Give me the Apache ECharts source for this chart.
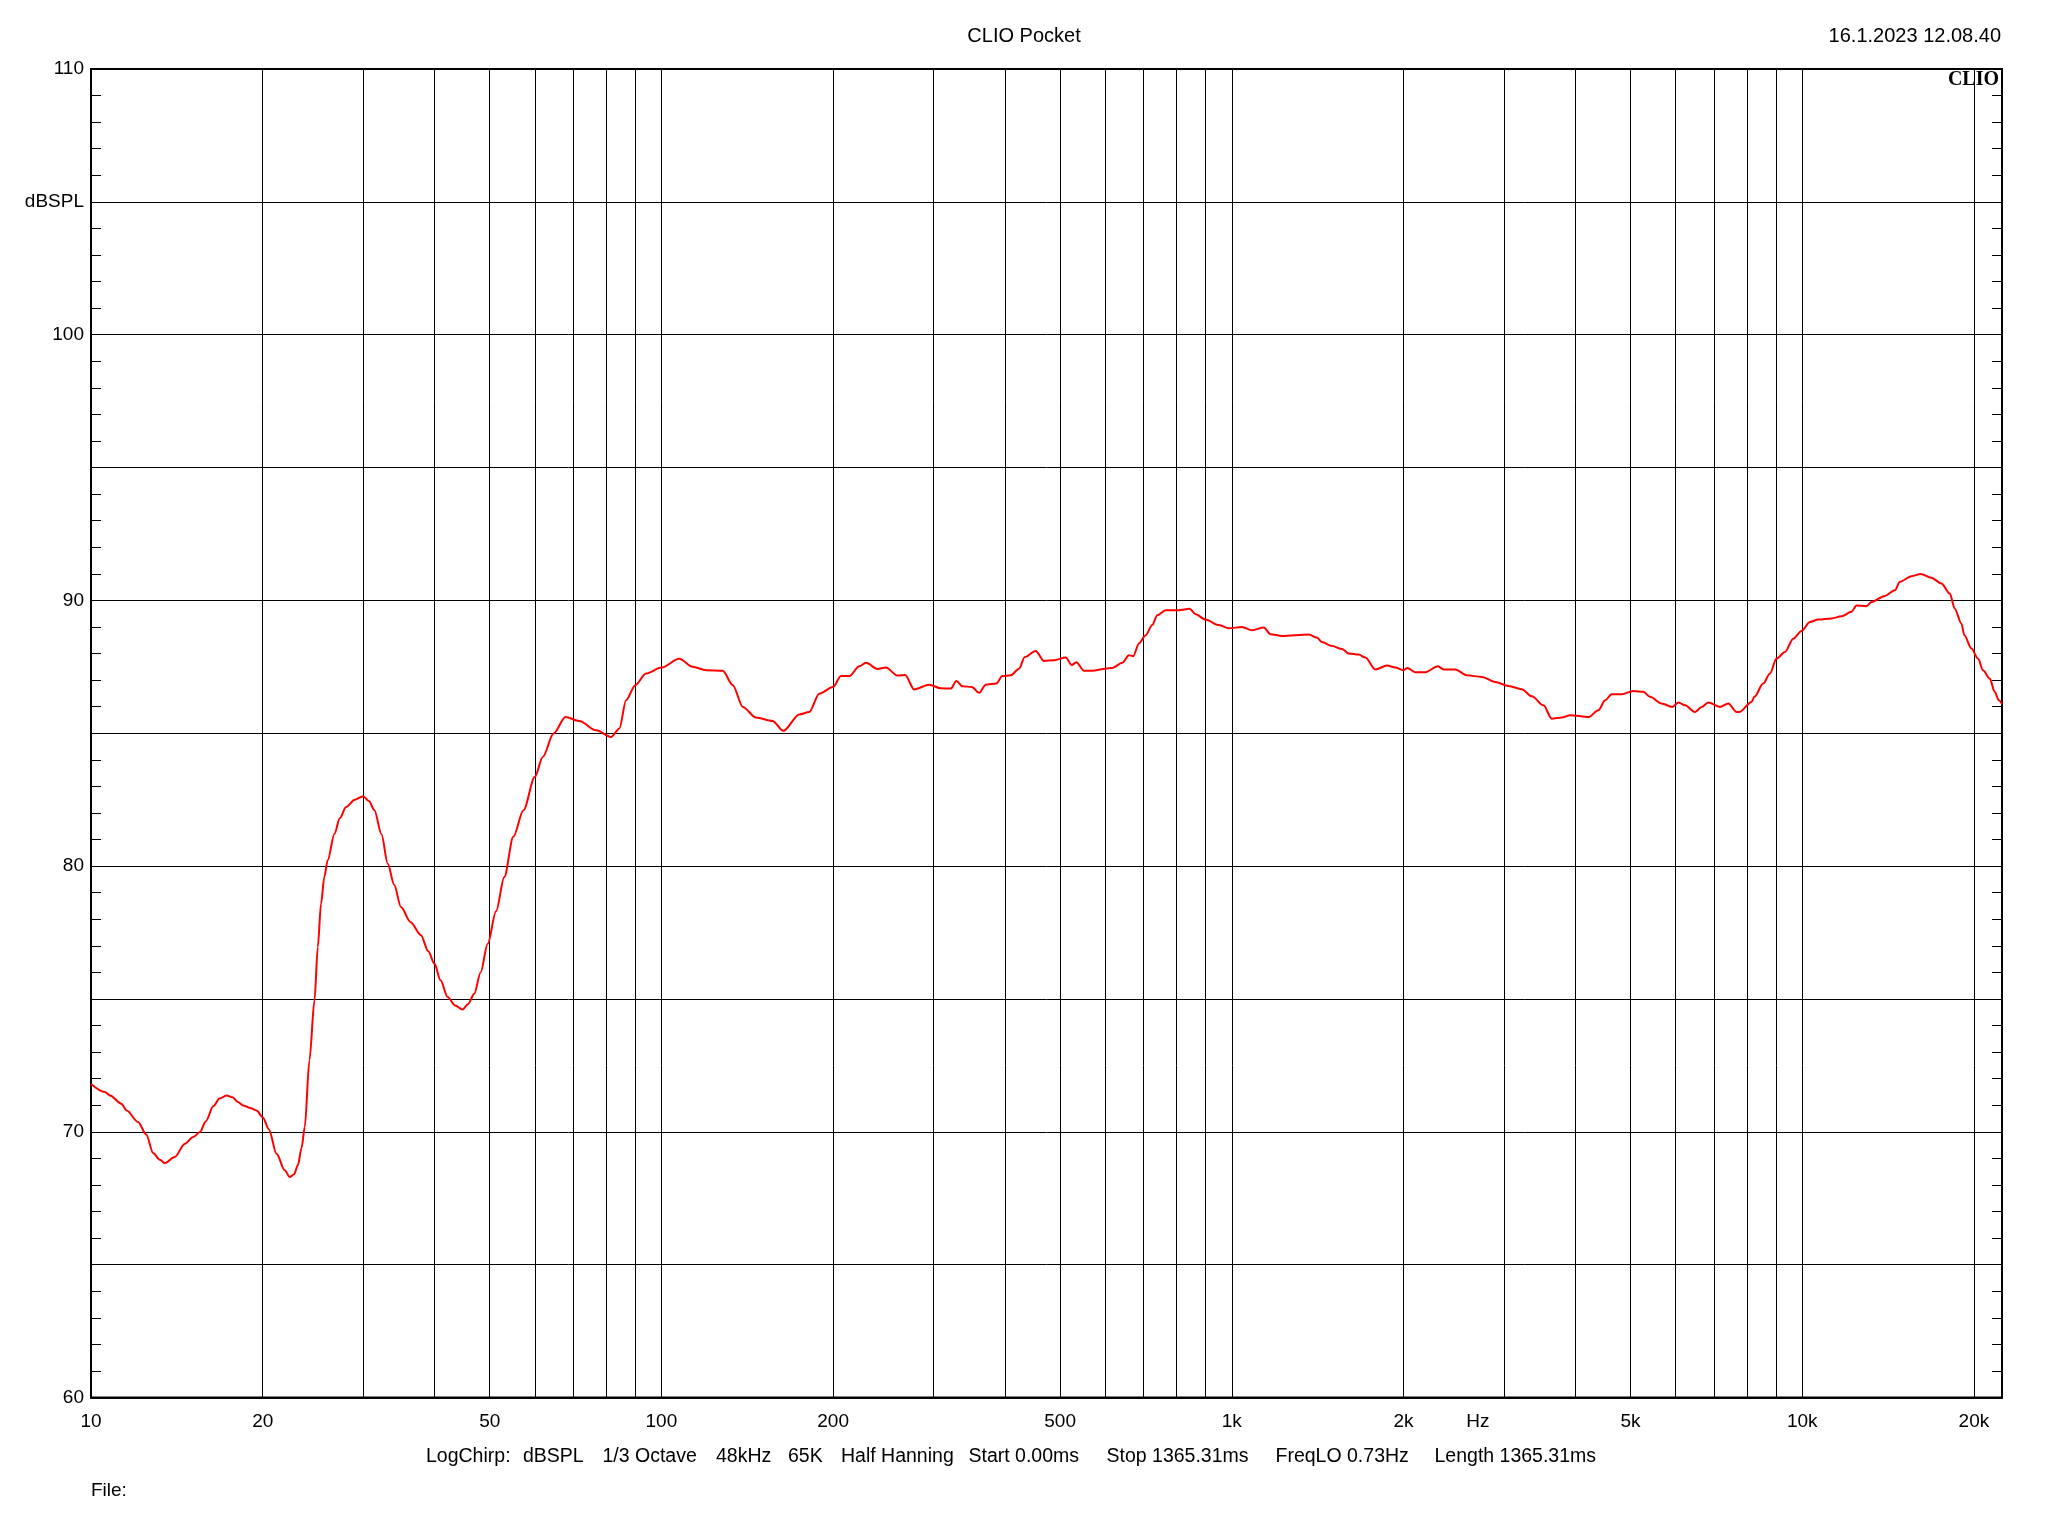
<!DOCTYPE html>
<html><head><meta charset="utf-8">
<script src="https://cdn.jsdelivr.net/npm/echarts@6/dist/echarts.min.js"></script>
<style>html,body{margin:0;padding:0;background:#fff}#c{width:2048px;height:1536px}</style>
</head><body><div id="c"></div>
<script>
// Frequency response (Hz) and level (dB SPL)
const freqHz = [10,10.57,10.8,11.3,11.55,12.09,12.5,12.85,13.2,13.48,14.02,14.61,15.1,15.52,15.9,16.38,16.8,17.29,17.7,18.09,18.48,19.0,19.51,20.0,20.5,21.15,21.86,22.3,22.7,23.05,23.4,23.7,24.15,24.65,24.98,25.31,25.65,26.0,26.72,27.3,28.0,29.0,30.0,30.7,31.4,32.3,33.13,34.0,34.95,36.3,37.89,39.0,40.0,41.0,42.2,43.5,44.8,45.8,46.98,48.2,49.6,51.3,53.04,55.0,57.3,60.0,61.95,64.7,67.9,71.8,76.85,81.6,84.4,86.7,90.0,94.0,100,107.5,113.4,119.8,128.1,133.4,138.9,146.5,156.6,163.6,174.5,181.6,189.1,200,206.4,213.5,222.3,228.4,239.3,247.5,259.4,267.5,277.4,294.8,309,321.7,329,337.1,350.1,360.6,370.4,386.6,396,409.8,423.6,433.5,453.1,468.6,487.9,511.5,524.1,533.9,550.7,569.4,600,617.3,642.6,660.2,671.7,687.4,706.3,725.3,740,765.5,807.6,843.1,863.8,899.3,949,988,1042,1085,1138,1169,1225,1364,1410,1439,1499,1561,1603,1669,1714,1785,1871,1935,2000,2031,2097,2184,2298,2351,2465,2583,2744,2896,3056,3223,3357,3519,3638,3789,3920,4220,4393,4514,4634,4825,5058,5267,5411,5670,5920,6065,6231,6488,6662,6845,7176,7421,7674,7763,8150,8243,8544,8779,9016,9326,9643,9973,10316,10667,11253,11718,12200,12449,12962,13227,13962,14535,14832,15540,16140,16840,17540,18140,18510,19010,19240,19800,20330,20750,21320,21750,22110,22400];
const splDb = [71.8,71.5,71.37,71.06,70.8,70.37,69.9,69.2,68.95,68.82,69.05,69.55,69.8,69.99,70.4,70.96,71.25,71.37,71.3,71.12,70.99,70.9,70.8,70.55,70.1,69.17,68.55,68.3,68.4,68.74,69.4,70.18,72.69,74.95,76.95,78.59,79.6,80.22,81.22,81.8,82.22,82.5,82.63,82.45,82.1,81.2,80.09,79.3,78.46,77.9,77.4,76.8,76.33,75.7,75.07,74.75,74.6,74.8,75.2,76.0,77.08,78.3,79.59,81.1,82.1,83.36,84.11,84.99,85.61,85.46,85.11,84.86,85.18,86.24,86.81,87.25,87.47,87.80,87.5,87.37,87.35,86.81,85.99,85.59,85.46,85.09,85.71,85.8,86.49,86.74,87.15,87.15,87.52,87.65,87.42,87.47,87.17,87.19,86.65,86.83,86.69,86.68,86.97,86.77,86.74,86.52,86.83,86.87,87.15,87.18,87.43,87.87,88.1,87.72,87.75,87.85,87.57,87.67,87.35,87.35,87.43,87.46,87.65,87.94,87.90,88.38,88.69,89.07,89.44,89.63,89.63,89.69,89.48,89.28,89.07,88.95,89.0,88.88,88.98,88.73,88.66,88.72,88.6,88.43,88.28,88.17,88.0,87.96,87.85,87.40,87.55,87.47,87.37,87.46,87.3,87.3,87.52,87.4,87.4,87.18,87.12,86.93,86.78,86.66,86.39,86.05,85.55,85.59,85.68,85.61,85.87,86.24,86.47,86.47,86.59,86.56,86.37,86.12,85.99,86.16,86.05,85.8,85.99,86.16,85.99,86.12,85.8,85.8,86.18,86.37,86.87,87.25,87.81,88.06,88.56,88.85,89.19,89.28,89.32,89.4,89.57,89.81,89.78,89.94,90.17,90.38,90.70,90.91,90.99,90.85,90.64,90.26,89.69,89.13,88.69,88.19,87.81,87.37,87.06,86.56,86.24,86.1];

// Vertical grid frequencies and x tick labels
const gridFreqs = [20,30,40,50,60,70,80,90,100,200,300,400,500,600,700,800,900,1000,2000,3000,4000,5000,6000,7000,8000,9000,10000,20000];
const xLabelFreqs = [10,20,50,100,200,500,1000,2000,2700,5000,10000,20000];
const xLabelTexts = ['10','20','50','100','200','500','1k','2k','Hz','5k','10k','20k'];
// Y labels
const yLabelValues = [60,70,80,90,100,105,110];
const yLabelTexts = ['60','70','80','90','100','dBSPL','110'];

const footerTexts = ['LogChirp:','dBSPL','1/3 Octave','48kHz','65K','Half Hanning','Start 0.00ms','Stop 1365.31ms','FreqLO 0.73Hz','Length 1365.31ms'];
const footerX = [426,523,602.5,716,788,841,968.5,1106.5,1275.5,1434.5];

const FONT = "'Liberation Sans', Arial, sans-serif";
const chart = echarts.init(document.getElementById('c'), null, {renderer:'canvas'});

function xFmt(v){
  for (let i=0;i<xLabelFreqs.length;i++){
    if (Math.abs(v - xLabelFreqs[i]) / xLabelFreqs[i] < 1e-4) return xLabelTexts[i];
  }
  return '';
}
function yFmt(v){
  const i = yLabelValues.indexOf(Math.round(v));
  return i >= 0 ? yLabelTexts[i] : '';
}

const graphics = [
  {type:'text', x:1024, y:36, style:{text:'CLIO Pocket', font:'20px '+FONT, fill:'#000', textAlign:'center', align:'center', textVerticalAlign:'middle', verticalAlign:'middle'}},
  {type:'text', x:2001, y:36, style:{text:'16.1.2023 12.08.40', font:'20px '+FONT, fill:'#000', textAlign:'right', align:'right', textVerticalAlign:'middle', verticalAlign:'middle'}},
  {type:'text', x:1999, y:80, z:100, style:{text:'CLIO', font:"bold 20px 'Liberation Serif', 'Times New Roman', serif", fill:'#000', textAlign:'right', align:'right', textVerticalAlign:'middle', verticalAlign:'middle'}},
  {type:'text', x:91, y:1491, style:{text:'File:', font:'19px '+FONT, fill:'#000', textAlign:'left', align:'left', textVerticalAlign:'middle', verticalAlign:'middle'}}
];
footerTexts.forEach((t,i)=>{
  graphics.push({type:'text', x:footerX[i], y:1457, style:{text:t, font:'19.5px '+FONT, fill:'#000', textAlign:'left', align:'left', textVerticalAlign:'middle', verticalAlign:'middle'}});
});

const yAxisBase = {
  type:'value', min:60, max:110, interval:5,
  axisLine:{show:true, lineStyle:{color:'#000', width:2}},
  axisTick:{show:true, inside:true, length:10, lineStyle:{color:'#000', width:1}},
  minorTick:{show:true, splitNumber:5, length:10, lineStyle:{color:'#000', width:1}},
};

chart.setOption({
  animation:false,
  backgroundColor:'#fff',
  grid:{left:91, top:69, right:46, bottom:138.5, show:true, borderColor:'#000', borderWidth:2, backgroundColor:'#fff', containLabel:false, outerBoundsMode:'none'},
  xAxis:{
    type:'log', logBase:10, min:10, max:22400,
    axisLine:{show:true, lineStyle:{color:'#000', width:2}},
    axisTick:{show:false, customValues:gridFreqs},
    splitLine:{show:true, lineStyle:{color:'#000', width:1}},
    minorTick:{show:false}, minorSplitLine:{show:false},
    axisLabel:{show:true, customValues:xLabelFreqs, formatter:xFmt, color:'#000', fontSize:19, fontFamily:FONT, margin:15}
  },
  yAxis:[
    Object.assign({}, yAxisBase, {position:'left',
      splitLine:{show:true, lineStyle:{color:'#000', width:1}},
      axisLabel:{show:true, formatter:yFmt, color:'#000', fontSize:19, fontFamily:FONT, margin:7}}),
    Object.assign({}, yAxisBase, {position:'right',
      splitLine:{show:false}, axisLabel:{show:false}})
  ],
  graphic:graphics,
  series:[{
    type:'line', xAxisIndex:0, yAxisIndex:0,
    data: freqHz.map((f,i)=>[f, splDb[i]]),
    showSymbol:false, symbol:'none',
    smooth:0.3, smoothMonotone:'x',
    lineStyle:{color:'#ff0000', width:2},
    clip:true, z:5
  }]
});
</script></body></html>
